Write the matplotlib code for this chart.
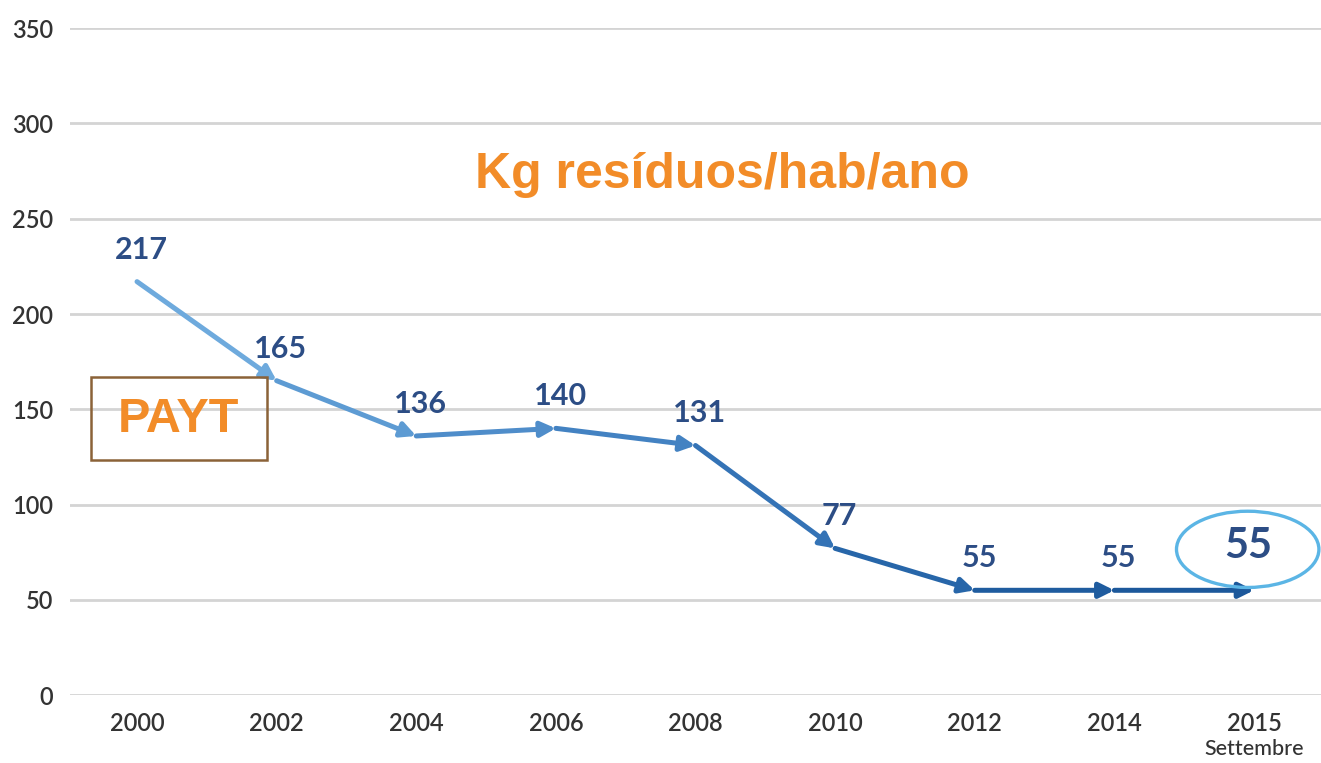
import matplotlib.pyplot as plt
from matplotlib.patches import Ellipse, Rectangle

# data
years = ['2000', '2002', '2004', '2006', '2008', '2010', '2012', '2014', '2015']
waste_kg = [217, 165, 136, 140, 131, 77, 55, 55, 55]
segment_colors = ['#6eaadd', '#5d9bd3', '#4f8dca', '#4382c2', '#3473b6', '#2766a9', '#1f5c9f', '#1c589b']
yticks = [0, 50, 100, 150, 200, 250, 300, 350]

label_color = '#2c4d85'
orange = '#f28c28'

fig = plt.figure(figsize=(13.21, 7.63), dpi=100)
ax = fig.add_axes([0.053, 0.089, 0.947, 0.874])

x = list(range(len(years)))

# arrows between consecutive points
for i in range(len(x) - 1):
    ax.annotate('', xy=(x[i + 1], waste_kg[i + 1]), xytext=(x[i], waste_kg[i]),
                arrowprops=dict(arrowstyle='-|>', color=segment_colors[i], lw=3.6,
                                mutation_scale=22, shrinkA=0, shrinkB=0),
                zorder=3)

# value labels (last one is drawn big inside the ellipse)
for i in range(len(x) - 1):
    ax.annotate(str(waste_kg[i]), xy=(x[i], waste_kg[i]), xytext=(3, 13),
                textcoords='offset points', ha='center', va='bottom',
                fontsize=22, fontweight='bold', color=label_color, family='Lato')

ax.annotate(str(waste_kg[-1]), xy=(x[-1], waste_kg[-1]), xytext=(-4, 18),
            textcoords='offset points', ha='center', va='bottom',
            fontsize=30, fontweight='bold', color=label_color, family='Lato')
ax.add_patch(Ellipse((x[-1] - 0.045, waste_kg[-1] + 21.5), 1.02, 40,
                     fill=False, edgecolor='#5bb5e5', lw=2.4, zorder=4))

ax.set_xlim(-0.48, len(x) - 1 + 0.48)
ax.set_ylim(0, 350)
ax.set_yticks(yticks)
ax.set_xticks(x)
ax.set_xticklabels(years)
ax.grid(axis='y', color='#d4d4d4', lw=2)
ax.set_axisbelow(True)
for s in ax.spines.values():
    s.set_visible(False)
ax.tick_params(length=0, labelsize=17, labelcolor='#333333', pad=12)
ax.tick_params(axis='y', pad=12)
for lab in ax.get_xticklabels() + ax.get_yticklabels():
    lab.set_family('Lato')
    lab.set_fontweight('semibold')

ax.text(x[-1], -23, 'Settembre', ha='center', va='top', fontsize=15.5,
        color='#333333', family='Lato', fontweight='medium')

# title and PAYT box
fig.text(0.547, 0.771, 'Kg resíduos/hab/ano', ha='center', va='center',
         fontsize=36, fontweight='bold', color=orange, family='Liberation Sans')

fig.patches.append(Rectangle((91 / 1321, 1 - 460 / 763), 176 / 1321, 83 / 763,
                             transform=fig.transFigure, fill=False,
                             edgecolor='#8b6238', lw=1.8))
fig.text(178 / 1321, 1 - 419 / 763, 'PAYT', ha='center', va='center',
         fontsize=35, fontweight='bold', color=orange, family='Liberation Sans')

fig.savefig('out.png', dpi=100)
